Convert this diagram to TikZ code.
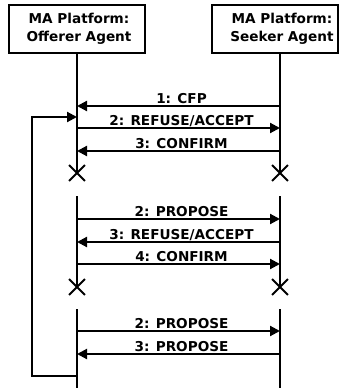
\documentclass[tikz,border=0pt]{standalone}
\usepackage{fontspec}
\setmainfont{DejaVu Sans}
\usetikzlibrary{arrows.meta,shapes.misc}

\begin{document}
\begin{tikzpicture}[x=1pt, y=1pt, line width=2.1pt,
    every node/.style={font=\fontsize{13.6}{18}\selectfont\bfseries},
    agent/.style={draw, minimum height=48pt, align=center, inner sep=0pt},
    msg/.style={-{Triangle[length=10pt,width=10pt]}},
    lbl/.style={anchor=base, inner sep=0pt, xshift=3pt, yshift=3pt},
    stopx/.style={cross out, draw, minimum size=14pt, inner sep=0pt, line width=1.9pt}]
  \useasboundingbox (0,0) rectangle (340,-388);
  % agents
  \node[agent, minimum width=136pt] (off) at (77,-29) {\hspace*{4pt}MA Platform:\\\hspace*{4pt}Offerer Agent};
  \node[agent, minimum width=126pt] (seek) at (275,-29) {\hspace*{14pt}MA Platform:\\\hspace*{14pt}Seeker Agent};
  % lifelines
  \coordinate (ol) at (77,0);
  \coordinate (sl) at (280,0);
  \node[stopx] (ox1) at (77,-173) {};
  \node[stopx] (sx1) at (280,-173) {};
  \node[stopx] (ox2) at (77,-287) {};
  \node[stopx] (sx2) at (280,-287) {};
  \draw (off.south) -- (ox1.center);
  \draw (seek.south -| sl) -- (sx1.center);
  \draw (ol |- 0,-196) -- (ox2.center);
  \draw (sl |- 0,-196) -- (sx2.center);
  \draw (ol |- 0,-309) -- (ol |- 0,-388);
  \draw (sl |- 0,-309) -- (sl |- 0,-388);
  % first round
  \draw[msg] (sl |- 0,-106) -- node[lbl] {1: CFP} (ol |- 0,-106);
  \draw[msg] (ol |- 0,-128) -- node[lbl] {2: REFUSE/ACCEPT} (sl |- 0,-128);
  \draw[msg] (sl |- 0,-151) -- node[lbl] {3: CONFIRM} (ol |- 0,-151);
  % second round
  \draw[msg] (ol |- 0,-219) -- node[lbl] {2: PROPOSE} (sl |- 0,-219);
  \draw[msg] (sl |- 0,-242) -- node[lbl] {3: REFUSE/ACCEPT} (ol |- 0,-242);
  \draw[msg] (ol |- 0,-264) -- node[lbl] {4: CONFIRM} (sl |- 0,-264);
  % third round
  \draw[msg] (ol |- 0,-331) -- node[lbl] {2: PROPOSE} (sl |- 0,-331);
  \draw[msg] (sl |- 0,-354) -- node[lbl] {3: PROPOSE} (ol |- 0,-354);
  % loop back
  \draw[msg] (ol |- 0,-376) -- (32,-376) |- (ol |- 0,-117);
\end{tikzpicture}
\end{document}
